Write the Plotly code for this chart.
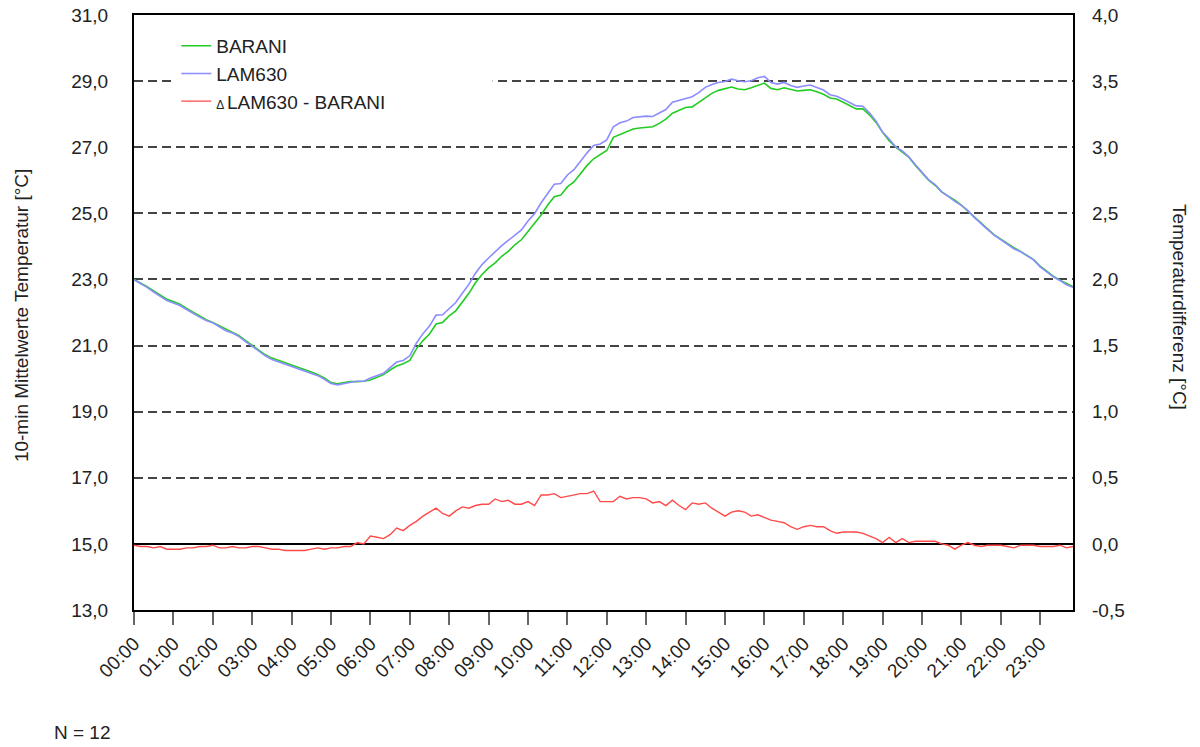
import plotly.graph_objects as go

# 10-minute time stamps (00:00 ... 23:50)
TIMES = ["%02d:%02d" % (h, m) for h in range(24) for m in range(0, 60, 10)]
HOUR_TICKS = ["%02d:00" % h for h in range(24)]

Y1_TICKS = [13, 15, 17, 19, 21, 23, 25, 27, 29, 31]
Y1_LABELS = ["13,0", "15,0", "17,0", "19,0", "21,0", "23,0", "25,0", "27,0", "29,0", "31,0"]
Y2_TICKS = [-0.5, 0.0, 0.5, 1.0, 1.5, 2.0, 2.5, 3.0, 3.5, 4.0]
Y2_LABELS = ["-0,5", "0,0", "0,5", "1,0", "1,5", "2,0", "2,5", "3,0", "3,5", "4,0"]

BARANI = [
    23.00, 22.90, 22.78, 22.65, 22.52, 22.40,
    22.33, 22.25, 22.12, 22.00, 21.88, 21.78,
    21.70, 21.60, 21.48, 21.40, 21.30, 21.15,
    21.00, 20.85, 20.72, 20.62, 20.55, 20.48,
    20.43, 20.36, 20.28, 20.20, 20.12, 20.02,
    19.88, 19.84, 19.88, 19.91, 19.91, 19.92,
    19.96, 20.03, 20.12, 20.26, 20.38, 20.45,
    20.55, 20.90, 21.15, 21.35, 21.65, 21.70,
    21.90, 22.05, 22.30, 22.58, 22.90, 23.15,
    23.35, 23.50, 23.70, 23.85, 24.05, 24.20,
    24.45, 24.70, 24.95, 25.25, 25.50, 25.55,
    25.80, 25.95, 26.20, 26.45, 26.65, 26.78,
    26.90, 27.30, 27.38, 27.45, 27.55, 27.58,
    27.60, 27.62, 27.72, 27.85, 28.03, 28.12,
    28.20, 28.22, 28.35, 28.50, 28.63, 28.72,
    28.78, 28.82, 28.76, 28.74, 28.80, 28.88,
    28.94, 28.78, 28.74, 28.80, 28.74, 28.70,
    28.72, 28.74, 28.68, 28.60, 28.49, 28.46,
    28.36, 28.25, 28.16, 28.16, 27.98, 27.75,
    27.45, 27.20, 27.00, 26.85, 26.70, 26.45,
    26.22, 26.00, 25.85, 25.65, 25.52, 25.40,
    25.25, 25.07, 24.88, 24.70, 24.52, 24.35,
    24.22, 24.08, 23.96, 23.85, 23.72, 23.60,
    23.40, 23.25, 23.10, 22.98, 22.87, 22.78,
]

LAM630 = [
    22.99, 22.88, 22.76, 22.62, 22.50, 22.36,
    22.29, 22.21, 22.09, 21.97, 21.86, 21.76,
    21.69, 21.57, 21.45, 21.38, 21.27, 21.12,
    20.98, 20.83, 20.69, 20.58, 20.51, 20.43,
    20.38, 20.31, 20.23, 20.16, 20.09, 19.98,
    19.85, 19.81, 19.86, 19.89, 19.92, 19.92,
    20.02, 20.08, 20.16, 20.33, 20.50, 20.55,
    20.69, 21.07, 21.36, 21.59, 21.92, 21.93,
    22.11, 22.30, 22.58, 22.85, 23.19, 23.45,
    23.65, 23.84, 24.02, 24.18, 24.35, 24.50,
    24.77, 24.99, 25.32, 25.62, 25.88, 25.90,
    26.16, 26.32, 26.58, 26.83, 27.05, 27.10,
    27.22, 27.62, 27.74, 27.79, 27.90, 27.93,
    27.94, 27.93, 28.04, 28.14, 28.36, 28.41,
    28.46, 28.53, 28.65, 28.81, 28.90, 28.96,
    28.99, 29.06, 29.01, 28.98, 29.01, 29.10,
    29.14, 28.96, 28.91, 28.96, 28.87, 28.81,
    28.85, 28.88, 28.81, 28.73, 28.59, 28.54,
    28.45, 28.34, 28.25, 28.24, 28.04, 27.79,
    27.46, 27.25, 27.01, 26.89, 26.71, 26.47,
    26.24, 26.02, 25.87, 25.65, 25.51, 25.36,
    25.24, 25.08, 24.87, 24.68, 24.51, 24.34,
    24.21, 24.06, 23.93, 23.84, 23.71, 23.59,
    23.38, 23.23, 23.08, 22.97, 22.84, 22.76,
]

DELTA = [
    -0.01, -0.02, -0.02, -0.03, -0.02, -0.04,
    -0.04, -0.04, -0.03, -0.03, -0.02, -0.02,
    -0.01, -0.03, -0.03, -0.02, -0.03, -0.03,
    -0.02, -0.02, -0.03, -0.04, -0.04, -0.05,
    -0.05, -0.05, -0.05, -0.04, -0.03, -0.04,
    -0.03, -0.03, -0.02, -0.02, 0.01, 0.00,
    0.06, 0.05, 0.04, 0.07, 0.12, 0.10,
    0.14, 0.17, 0.21, 0.24, 0.27, 0.23,
    0.21, 0.25, 0.28, 0.27, 0.29, 0.30,
    0.30, 0.34, 0.32, 0.33, 0.30, 0.30,
    0.32, 0.29, 0.37, 0.37, 0.38, 0.35,
    0.36, 0.37, 0.38, 0.38, 0.40, 0.32,
    0.32, 0.32, 0.36, 0.34, 0.35, 0.35,
    0.34, 0.31, 0.32, 0.29, 0.33, 0.29,
    0.26, 0.31, 0.30, 0.31, 0.27, 0.24,
    0.21, 0.24, 0.25, 0.24, 0.21, 0.22,
    0.20, 0.18, 0.17, 0.16, 0.13, 0.11,
    0.13, 0.14, 0.13, 0.13, 0.10, 0.08,
    0.09, 0.09, 0.09, 0.08, 0.06, 0.04,
    0.01, 0.05, 0.01, 0.04, 0.01, 0.02,
    0.02, 0.02, 0.02, 0.00, -0.01, -0.04,
    -0.01, 0.01, -0.01, -0.02, -0.01, -0.01,
    -0.01, -0.02, -0.03, -0.01, -0.01, -0.01,
    -0.02, -0.02, -0.02, -0.01, -0.03, -0.02,
]

FONT = "Liberation Sans, Arial, sans-serif"
TXT = "#222222"
FS = 19

fig = go.Figure()
fig.add_trace(go.Scatter(x=TIMES, y=BARANI, mode="lines", name="BARANI",
                         line=dict(color="#22cc22", width=1.6), legendgroup="a"))
fig.add_trace(go.Scatter(x=TIMES, y=LAM630, mode="lines", name="LAM630",
                         line=dict(color="#8c8cff", width=1.6), legendgroup="b"))
fig.add_trace(go.Scatter(x=TIMES, y=DELTA, mode="lines", yaxis="y2",
                         name="<span style='font-size:12px'>\u0394 </span>LAM630 - BARANI",
                         line=dict(color="#ff4a4a", width=1.4), legendgroup="c"))

fig.update_layout(
    width=1200, height=747,
    margin=dict(l=134, r=127, t=15, b=137, autoexpand=False),
    paper_bgcolor="white", plot_bgcolor="white",
    font=dict(family=FONT, size=FS, color=TXT),
    showlegend=True,
    hovermode=False,
    legend=dict(x=0.045, y=0.98, xanchor="left", yanchor="top",
                bgcolor="white", borderwidth=0, tracegroupgap=0,
                font=dict(size=FS, color=TXT)),
    xaxis=dict(type="category", range=[0, len(TIMES) - 1], automargin=False,
               tickmode="array", tickvals=HOUR_TICKS, ticktext=HOUR_TICKS,
               tickangle=-45, ticks="outside", ticklen=13, tickwidth=2,
               tickcolor="#666666", showgrid=False, zeroline=False,
               showline=True, linecolor="black", linewidth=2, mirror=True,
               tickfont=dict(size=FS, color=TXT)),
    yaxis=dict(range=[13, 31], automargin=False, ticklabeloverflow="allow",
               tickmode="array", tickvals=Y1_TICKS, ticktext=Y1_LABELS,
               showgrid=True, gridcolor="#444444", gridwidth=2, griddash="9px,5px",
               zeroline=False, ticks="", ticklabelstandoff=20,
               showline=True, linecolor="black", linewidth=2, mirror=True,
               tickfont=dict(size=FS, color=TXT)),
    yaxis2=dict(range=[-0.5, 4.0], automargin=False, ticklabeloverflow="allow",
                tickmode="array", tickvals=Y2_TICKS, ticktext=Y2_LABELS,
                overlaying="y", side="right", showgrid=False,
                zeroline=True, zerolinecolor="black", zerolinewidth=2,
                ticks="", ticklabelstandoff=18, showline=False,
                tickfont=dict(size=FS, color=TXT)),
)

# white strip behind the legend hiding part of the top grid line (as in the original)
fig.add_shape(type="rect", xref="paper", yref="y", x0=0.047, x1=0.382, y0=28.8, y1=29.2,
              fillcolor="white", line=dict(width=0), layer="above")

fig.add_annotation(text="10-min Mittelwerte Temperatur [°C]", xref="paper", yref="paper",
                   x=-0.1203, y=0.494, textangle=-90, showarrow=False,
                   xanchor="center", yanchor="middle", font=dict(size=FS, color=TXT))
fig.add_annotation(text="Temperaturdifferenz [°C]", xref="paper", yref="paper",
                   x=1.114, y=0.509, textangle=90, showarrow=False,
                   xanchor="center", yanchor="middle", font=dict(size=FS, color=TXT))
fig.add_annotation(text="N = 12", xref="paper", yref="paper",
                   x=-0.0873, y=-0.2067, showarrow=False,
                   xanchor="left", yanchor="middle", font=dict(size=FS, color=TXT))

# remove the browser's default page margin so the 1200x747 figure fills the window
fig.write_html("out.html", config={"displayModeBar": False},
               post_script="document.body.style.margin='0';")
